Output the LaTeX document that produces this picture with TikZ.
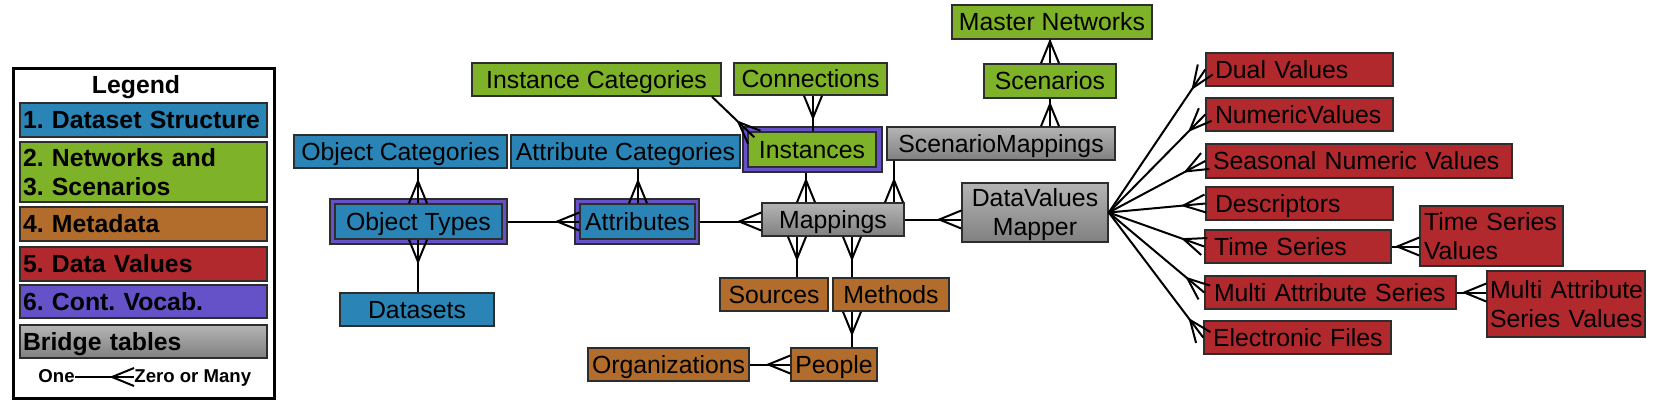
\documentclass[tikz,border=0pt]{standalone}
\usepackage{fontspec}
\setmainfont{Liberation Sans}
\usetikzlibrary{calc}
\frenchspacing
\definecolor{cblue}{RGB}{42,132,181}
\definecolor{cgreen}{RGB}{126,178,40}
\definecolor{cbrown}{RGB}{178,109,44}
\definecolor{cred}{RGB}{178,41,45}
\definecolor{cpurple}{RGB}{102,82,200}
\definecolor{cgrayT}{RGB}{180,180,180}
\definecolor{cgrayB}{RGB}{128,128,128}
\definecolor{cline}{RGB}{45,45,45}
\newcommand\dfont{\fontsize{12.4}{14.5}\selectfont}
\newcommand\sst{\rule[-2.6pt]{0pt}{13.8pt}}
\newcommand\tline[1]{\mbox{\sst #1}}
\newcommand\mkcbox[7]{%
  \pgfmathsetmacro\bw{(#4-#2)*0.5}\pgfmathsetmacro\bh{(#5-#3)*0.5}%
  \pgfmathsetmacro\bx{(#2+#4)/2}\pgfmathsetmacro\by{(#3+#5)/2}%
  \node[box,#6,align=center,minimum width=\bw pt,minimum height=\bh pt] (#1) at (\bx,\by) {#7};}
\newcommand\mklbox[8]{%
  \pgfmathsetmacro\tw{(#4-#2-2*#8)*0.5}\pgfmathsetmacro\bh{(#5-#3)*0.5}%
  \pgfmathsetmacro\px{#8*0.5}%
  \pgfmathsetmacro\bx{(#2+#4)/2}\pgfmathsetmacro\by{(#3+#5)/2}%
  \node[box,#6,align=left,inner xsep=\px pt,text width=\tw pt,minimum height=\bh pt] (#1) at (\bx,\by) {#7};}
\newcommand\erlink[2]{%
  \draw[conn] #1 -- #2;
  \draw[conn] ($#2!4.5pt!90:#1$) -- ($#2!11pt!#1$) -- ($#2!4.5pt!-90:#1$);}
\begin{document}
\begin{tikzpicture}[x=0.5pt,y=-0.5pt,
  box/.style={draw=cline,line width=0.75pt,inner sep=0pt,font=\dfont,text=black},
  ds/.style={fill=cblue},
  nw/.style={fill=cgreen},
  md/.style={fill=cbrown},
  dv/.style={fill=cred},
  cv/.style={fill=cpurple},
  br/.style={top color=cgrayT,bottom color=cgrayB},
  lg/.style={font=\dfont\bfseries},
  lgs/.style={font=\fontsize{9.3}{11}\selectfont\bfseries,inner sep=0pt,text height=7pt,text depth=2pt},
  conn/.style={line width=1pt,draw=black}]
\useasboundingbox (0,0) rectangle (1668,404);
% legend
\mkcbox{legend}{13}{68}{274}{398}{line width=1.5pt,draw=black,fill=white}{}
\node[lg,inner sep=0pt] (lgtitle) at (136,85) {\sst Legend};
\mklbox{lg1}{20}{103}{267}{137}{ds,lg}{\tline{1. Dataset Structure}}{3}
\mklbox{lg2}{20}{142}{267}{202}{nw,lg}{\tline{2. Networks and}\\\tline{3. Scenarios}}{3}
\mklbox{lg3}{20}{207}{267}{241}{md,lg}{\tline{4. Metadata}}{3}
\mklbox{lg4}{20}{247}{267}{281}{dv,lg}{\tline{5. Data Values}}{3}
\mklbox{lg5}{20}{285}{267}{318}{cv,lg}{\tline{6. Cont. Vocab.}}{3}
\mklbox{lg6}{20}{325}{267}{358}{br,lg}{\tline{Bridge tables}}{3}
\node[lgs,anchor=east] (one) at (75,377) {One};
\node[lgs,anchor=west] (many) at (134,377) {Zero or Many};
% diagram boxes
\mkcbox{mnet}{952}{5}{1152}{39}{nw}{\sst Master Networks}
\mkcbox{scen}{984}{64}{1116}{98}{nw}{\sst Scenarios}
\mkcbox{conn}{734}{63}{887}{95}{nw}{\sst Connections}
\mkcbox{icat}{472}{63}{721}{96}{nw}{\sst Instance Categories}
\mkcbox{instf}{743}{127}{882}{172}{cv}{}
\mkcbox{inst}{748}{132}{876}{167}{nw}{\sst Instances}
\mkcbox{smap}{887}{127}{1115}{160}{br}{\sst ScenarioMappings}
\mkcbox{ocat}{294}{135}{507}{168}{ds}{\sst Object Categories}
\mkcbox{acat}{511}{135}{740}{168}{ds}{\sst Attribute Categories}
\mkcbox{otypf}{330}{199}{507}{244}{cv}{}
\mkcbox{otyp}{335}{204}{502}{239}{ds}{\sst Object Types}
\mkcbox{attrf}{575}{199}{699}{244}{cv}{}
\mkcbox{attr}{580}{204}{695}{239}{ds}{\sst Attributes}
\mkcbox{map}{762}{203}{904}{236}{br}{\sst Mappings}
\mkcbox{dvm}{962}{183}{1108}{242}{br}{\sst DataValues\\\sst Mapper}
\mkcbox{dset}{340}{293}{494}{326}{ds}{\sst Datasets}
\mkcbox{src}{720}{278}{828}{311}{md}{\sst Sources}
\mkcbox{meth}{833}{278}{949}{311}{md}{\sst Methods}
\mkcbox{ppl}{791}{348}{877}{381}{md}{\sst People}
\mkcbox{org}{588}{348}{749}{381}{md}{\sst Organizations}
\mklbox{dual}{1206}{53}{1393}{86}{dv}{\tline{Dual Values}}{9}
\mklbox{numv}{1206}{98}{1393}{131}{dv}{\tline{NumericValues}}{9}
\mklbox{seas}{1206}{144}{1512}{178}{dv}{\tline{Seasonal Numeric Values}}{7}
\mklbox{desc}{1206}{187}{1393}{220}{dv}{\tline{Descriptors}}{9}
\mklbox{ts}{1205}{230}{1391}{263}{dv}{\tline{Time Series}}{9}
\mklbox{tsv}{1420}{206}{1563}{266}{dv}{\tline{Time Series}\\\tline{Values}}{4}
\mklbox{mas}{1205}{276}{1456}{309}{dv}{\tline{Multi Attribute Series}}{9}
\mklbox{masv}{1487}{271}{1645}{337}{dv}{\tline{Multi Attribute}\\\tline{Series Values}}{3}
\mklbox{efil}{1204}{321}{1391}{354}{dv}{\tline{Electronic Files}}{9}
% helper x positions
\coordinate (x1050) at (1050,0);
\coordinate (x813) at (813,0);
\coordinate (x712) at (712,0);
\coordinate (x806) at (806,0);
\coordinate (x894) at (894,0);
\coordinate (x638) at (638,0);
\coordinate (x418) at (418,0);
\coordinate (x797) at (797,0);
\coordinate (x852) at (852,0);
\coordinate (icB) at ($(inst.north west)+(7,6)$);
% connectors (one end, many end)
\erlink{(one.east)}{(many.west)}
\erlink{(mnet.south -| x1050)}{(scen.north -| x1050)}
\erlink{(scen.south -| x1050)}{(smap.north -| x1050)}
\erlink{(inst.north -| x813)}{(conn.south -| x813)}
\erlink{(icat.south -| x712)}{(icB)}
\erlink{(instf.south -| x806)}{(map.north -| x806)}
\erlink{(smap.south -| x894)}{(map.north -| x894)}
\erlink{(acat.south -| x638)}{(attr.north -| x638)}
\erlink{(ocat.south -| x418)}{(otyp.north -| x418)}
\erlink{(dset.north -| x418)}{(otyp.south -| x418)}
\erlink{(otypf.east)}{(attr.west)}
\erlink{(attrf.east)}{(map.west |- attrf.east)}
\erlink{(map.east)}{(dvm.west |- map.east)}
\erlink{(src.north -| x797)}{(map.south -| x797)}
\erlink{(meth.north -| x852)}{(map.south -| x852)}
\erlink{(ppl.north -| x852)}{(meth.south -| x852)}
\erlink{(org.east)}{(ppl.west)}
\foreach \rn in {dual,numv,seas,desc,ts,mas,efil}{\erlink{(dvm.east)}{(\rn.west)}}
\erlink{(ts.east)}{(tsv.west |- ts.east)}
\erlink{(mas.east)}{(masv.west |- mas.east)}
\end{tikzpicture}
\end{document}
